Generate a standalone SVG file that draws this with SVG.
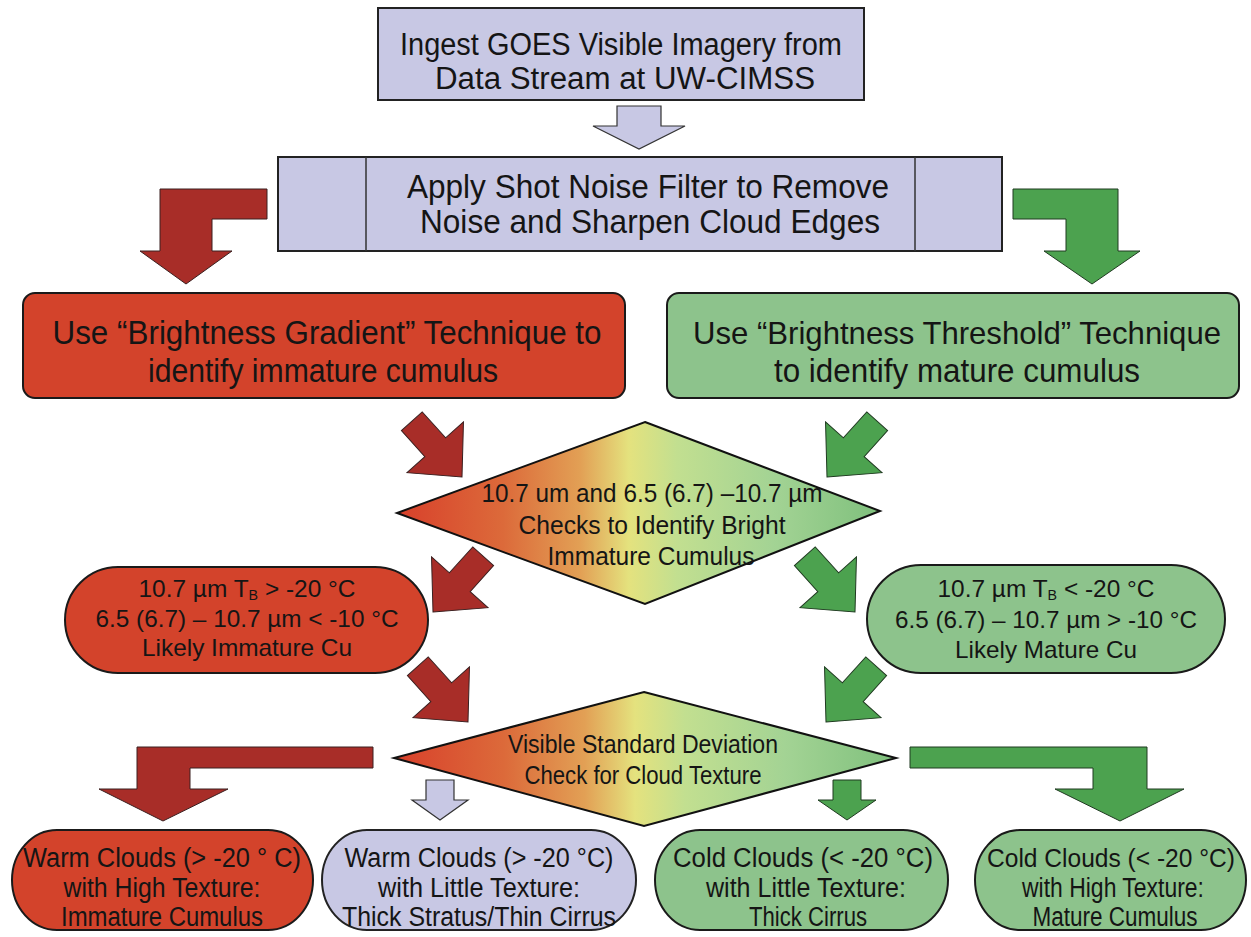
<svg xmlns="http://www.w3.org/2000/svg" xmlns:xlink="http://www.w3.org/1999/xlink" width="1251" height="937" viewBox="0 0 1251 937">
<style>
text{font-family:"Liberation Sans",Arial,sans-serif;fill:#151515;text-anchor:middle}
.lav{fill:#c8c8e4;stroke:#222;stroke-width:2}
.red{fill:#d3432b;stroke:#1a1a1a;stroke-width:2}
.grn{fill:#8dc38c;stroke:#1a1a1a;stroke-width:2}
.ra{fill:#a82d28;stroke:#3a2020;stroke-width:1}
.ga{fill:#4ca24f;stroke:#1f3a20;stroke-width:1}
.la{fill:#c8c8e4;stroke:#333;stroke-width:1.2}
.dia{fill:url(#grad);stroke:#111;stroke-width:2}
.t31{font-size:31px}.t34{font-size:33px}.t33{font-size:34px}.t25{font-size:26px}.t24{font-size:24px}.t26{font-size:27px}
.sub{font-size:14px}
</style>
<defs>
<linearGradient id="grad" x1="0" y1="0" x2="1" y2="0">
<stop offset="0" stop-color="#d8402b"/>
<stop offset="0.22" stop-color="#dc6a3a"/>
<stop offset="0.38" stop-color="#e2a055"/>
<stop offset="0.48" stop-color="#e4e27e"/>
<stop offset="0.58" stop-color="#c2df90"/>
<stop offset="0.78" stop-color="#a3d394"/>
<stop offset="1" stop-color="#7fc07d"/>
</linearGradient>
<polygon id="darrow" points="0,0 -40,-38 -40,-14 -75,-14 -75,14 -40,14 -40,38"/>
</defs>
<rect width="1251" height="937" fill="#ffffff"/>

<g id="connectors">
<polygon class="la" points="617,106 661,106 661,126 685,126 639,149 593,126 617,126"/>
<polygon class="ra" points="267,189 267,219 212,219 212,251 232,251 186,284 140,251 160,251 160,189"/>
<polygon class="ga" points="1013,189 1118,189 1118,251 1140,251 1092,284 1044,251 1066,251 1066,219 1013,219"/>
<use href="#darrow" class="ra" transform="translate(462,477) rotate(48)"/>
<use href="#darrow" class="ga" transform="translate(827,477) rotate(132)"/>
<use href="#darrow" class="ra" transform="translate(433,612) rotate(132)"/>
<use href="#darrow" class="ga" transform="translate(855,612) rotate(48)"/>
<use href="#darrow" class="ra" transform="translate(468,722) rotate(48)"/>
<use href="#darrow" class="ga" transform="translate(826,722) rotate(132)"/>
<polygon class="ra" points="373,747 373,768 190,768 190,789 228,789 163,821 99,789 137,789 137,747"/>
<polygon class="ga" points="910,747 1147,747 1147,789 1184,789 1120,821 1055,789 1093,789 1093,768 910,768"/>
<polygon class="la" points="426,780 454,780 454,800 468,800 440,820 412,800 426,800"/>
<polygon class="ga" points="833,780 861,780 861,800 876,800 847,820 818,800 833,800"/>
</g>

<g id="ingest">
<rect class="lav" x="378" y="8" width="486" height="92" stroke-width="3"/>
<text class="t31" x="621" y="55" textLength="442" lengthAdjust="spacingAndGlyphs">Ingest GOES Visible Imagery from</text>
<text class="t31" x="625" y="89" textLength="380" lengthAdjust="spacingAndGlyphs">Data Stream at UW-CIMSS</text>
</g>

<g id="filter">
<rect class="lav" x="278" y="157" width="724" height="94" stroke-width="1.5"/>
<line x1="366" y1="157" x2="366" y2="251" stroke="#333" stroke-width="1.5"/>
<line x1="915" y1="157" x2="915" y2="251" stroke="#333" stroke-width="1.5"/>
<text class="t34" x="648" y="198" textLength="482" lengthAdjust="spacingAndGlyphs">Apply Shot Noise Filter to Remove</text>
<text class="t34" x="650" y="233" textLength="460" lengthAdjust="spacingAndGlyphs">Noise and Sharpen Cloud Edges</text>
</g>

<g id="gradient-technique">
<rect class="red" x="23" y="293" width="602" height="105" rx="12"/>
<text class="t33" x="327" y="344" textLength="549" lengthAdjust="spacingAndGlyphs">Use “Brightness Gradient” Technique to</text>
<text class="t33" x="323" y="382" textLength="350" lengthAdjust="spacingAndGlyphs">identify immature cumulus</text>
</g>

<g id="threshold-technique">
<rect class="grn" x="667" y="293" width="572" height="105" rx="12"/>
<text x="957" y="344" font-size="32" textLength="528" lengthAdjust="spacingAndGlyphs">Use “Brightness Threshold” Technique</text>
<text class="t33" x="957" y="382" textLength="366" lengthAdjust="spacingAndGlyphs">to identify mature cumulus</text>
</g>

<g id="ir-check">
<polygon class="dia" points="645,422 880,511 645,604 397,513"/>
<text class="t25" x="652" y="502" textLength="341" lengthAdjust="spacingAndGlyphs">10.7 um and 6.5 (6.7) –10.7 µm</text>
<text class="t25" x="652" y="534" textLength="267" lengthAdjust="spacingAndGlyphs">Checks to Identify Bright</text>
<text class="t25" x="651" y="565" textLength="207" lengthAdjust="spacingAndGlyphs">Immature Cumulus</text>
</g>

<g id="likely-immature">
<rect class="red" x="65" y="567" width="363" height="106" rx="53"/>
<text class="t24" x="247" y="597" textLength="217" lengthAdjust="spacingAndGlyphs">10.7 µm T<tspan class="sub" dy="3">B</tspan><tspan dy="-3"> &gt; -20 °C</tspan></text>
<text class="t24" x="247" y="627" textLength="303" lengthAdjust="spacingAndGlyphs">6.5 (6.7) – 10.7 µm &lt; -10 °C</text>
<text class="t24" x="247" y="656" textLength="210" lengthAdjust="spacingAndGlyphs">Likely Immature Cu</text>
</g>

<g id="likely-mature">
<rect class="grn" x="867" y="565" width="358" height="108" rx="54"/>
<text class="t24" x="1046" y="597" textLength="217" lengthAdjust="spacingAndGlyphs">10.7 µm T<tspan class="sub" dy="3">B</tspan><tspan dy="-3"> &lt; -20 °C</tspan></text>
<text class="t24" x="1046" y="628" textLength="302" lengthAdjust="spacingAndGlyphs">6.5 (6.7) – 10.7 µm &gt; -10 °C</text>
<text class="t24" x="1046" y="658" textLength="182" lengthAdjust="spacingAndGlyphs">Likely Mature Cu</text>
</g>

<g id="texture-check">
<polygon class="dia" points="644,692 896,758 644,826 394,758"/>
<text class="t25" x="643" y="753" textLength="270" lengthAdjust="spacingAndGlyphs">Visible Standard Deviation</text>
<text class="t25" x="643" y="784" textLength="237" lengthAdjust="spacingAndGlyphs">Check for Cloud Texture</text>
</g>

<g id="warm-high">
<rect class="red" x="12" y="830" width="301" height="100" rx="45" ry="50"/>
<text class="t26" x="162" y="867" textLength="278" lengthAdjust="spacingAndGlyphs">Warm Clouds (&gt; -20 ° C)</text>
<text class="t26" x="162" y="897" textLength="197" lengthAdjust="spacingAndGlyphs">with High Texture:</text>
<text class="t26" x="162" y="926" textLength="202" lengthAdjust="spacingAndGlyphs">Immature Cumulus</text>
</g>

<g id="warm-little">
<rect class="lav" x="322" y="830" width="314" height="100" rx="45" ry="50"/>
<text class="t26" x="479" y="867" textLength="269" lengthAdjust="spacingAndGlyphs">Warm Clouds (&gt; -20 °C)</text>
<text class="t26" x="479" y="897" textLength="202" lengthAdjust="spacingAndGlyphs">with Little Texture:</text>
<text class="t26" x="479" y="926" textLength="274" lengthAdjust="spacingAndGlyphs">Thick Stratus/Thin Cirrus</text>
</g>

<g id="cold-little">
<rect class="grn" x="655" y="830" width="293" height="100" rx="45" ry="50"/>
<text class="t26" x="803" y="867" textLength="260" lengthAdjust="spacingAndGlyphs">Cold Clouds (&lt; -20 °C)</text>
<text class="t26" x="806" y="897" textLength="200" lengthAdjust="spacingAndGlyphs">with Little Texture:</text>
<text class="t26" x="808" y="926" textLength="118" lengthAdjust="spacingAndGlyphs">Thick Cirrus</text>
</g>

<g id="cold-high">
<rect class="grn" x="975" y="830" width="271" height="100" rx="45" ry="50"/>
<text x="1111" y="867" font-size="25" textLength="248" lengthAdjust="spacingAndGlyphs">Cold Clouds (&lt; -20 °C)</text>
<text class="t26" x="1113" y="897" textLength="182" lengthAdjust="spacingAndGlyphs">with High Texture:</text>
<text class="t26" x="1115" y="926" textLength="165" lengthAdjust="spacingAndGlyphs">Mature Cumulus</text>
</g>
</svg>
